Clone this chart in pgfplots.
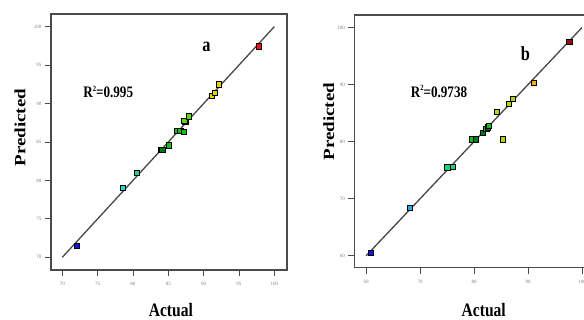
\documentclass[border=0pt]{standalone}
\usepackage{fontspec}
\setmainfont{Liberation Serif}
\usepackage{pgfplots}
\pgfplotsset{compat=1.18}
\definecolor{cblue}{RGB}{20,20,230}
\definecolor{ccyan}{RGB}{40,215,215}
\definecolor{cteal}{RGB}{20,205,160}
\definecolor{cdkgreen}{RGB}{0,120,20}
\definecolor{cgreen}{RGB}{20,190,20}
\definecolor{clgreen}{RGB}{90,215,10}
\definecolor{cyellowgreen}{RGB}{175,215,0}
\definecolor{cyellow}{RGB}{225,215,0}
\definecolor{corange}{RGB}{250,175,0}
\definecolor{cred}{RGB}{235,20,20}
\definecolor{cdarkred}{RGB}{160,10,10}
\definecolor{clightblue}{RGB}{20,175,230}
\definecolor{cgcyan}{RGB}{20,210,120}
\definecolor{framec}{RGB}{75,75,75}
\newcommand{\sq}{\raisebox{0.42em}{\fontsize{8}{8}\selectfont 2}}
\pgfplotsset{
  common/.style={
    scale only axis,
    anchor=south west,
    axis line style={framec, line width=1.6pt},
    tick pos=left,
    tick align=outside,
    major tick length=6pt,
    every tick/.style={framec, line width=0.8pt},
    minor tick num=0,
    ticklabel style={font=\fontsize{5}{6}\selectfont, text=gray},
    xticklabel style={yshift=-3pt},
    /pgf/number format/assume math mode=true,
    label style={font=\fontsize{19}{22}\selectfont\bfseries},
    scatter/classes={
      blue={mark=square*, draw=black, fill=cblue},
      cyan={mark=square*, draw=black, fill=ccyan},
      teal={mark=square*, draw=black, fill=cteal},
      dkgreen={mark=square*, draw=black, fill=cdkgreen},
      green={mark=square*, draw=black, fill=cgreen},
      lgreen={mark=square*, draw=black, fill=clgreen},
      ygreen={mark=square*, draw=black, fill=cyellowgreen},
      yellow={mark=square*, draw=black, fill=cyellow},
      orange={mark=square*, draw=black, fill=corange},
      red={mark=square*, draw=black, fill=cred},
      dred={mark=square*, draw=black, fill=cdarkred},
      lblue={mark=square*, draw=black, fill=clightblue},
      gcyan={mark=square*, draw=black, fill=cgcyan}
    },
  },
  fitline/.style={no marks, line width=1.3pt, color=black!72},
  pts/.style={scatter, only marks, scatter src=explicit symbolic, mark size=2.6pt, line width=0.7pt},
}
\begin{document}
\begin{tikzpicture}[x=1pt,y=1pt]
\path[use as bounding box] (0,0) rectangle (584,320);
\begin{axis}[common,
  at={(51pt,50pt)}, width=236pt, height=256pt,
  xmin=68.4, xmax=101.8, ymin=68.35, ymax=101.65,
  xtick={70,75,80,85,90,95,100}, ytick={70,75,80,85,90,95,100},
  xlabel={\scalebox{0.82}[1]{Actual}},
  ylabel={\scalebox{1}[0.82]{Predicted}},
  xlabel style={at={(axis description cs:0.508,-0.156)}, anchor=center},
  ylabel style={at={(axis description cs:-0.131,0.556)}, anchor=center},
]
\addplot[fitline] coordinates {(70,70) (100,100)};
\addplot[pts] table[meta=c] {
x y c
72.08 71.50 blue
78.54 79.00 cyan
80.60 80.96 teal
83.90 83.95 dkgreen
84.15 83.95 dkgreen
85.10 84.56 green
86.20 86.40 green
86.70 86.40 green
87.20 86.30 green
87.40 87.60 green
87.26 87.76 lgreen
87.92 88.33 lgreen
91.20 91.00 yellow
91.64 91.40 yellow
92.16 92.50 yellow
97.87 97.44 red
};
\node[font=\fontsize{20}{22}\selectfont\bfseries] at (axis cs:90.4,97.4) {\scalebox{0.82}[1]{a}};
\node[font=\fontsize{16}{18}\selectfont\bfseries] at (axis cs:76.5,91.5) {\scalebox{0.82}[1]{R\sq=0.995}};
\end{axis}
\begin{axis}[common,
  at={(354.3pt,52.3pt)}, width=238.5pt, height=252.7pt,
  xmin=57.8, xmax=102, ymin=57.9, ymax=102.2,
  xtick={60,70,80,90,100}, ytick={60,70,80,90,100},
  xlabel={\scalebox{0.82}[1]{Actual}},
  ylabel={\scalebox{1}[0.82]{Predicted}},
  xlabel style={at={(axis description cs:0.5426,-0.167)}, anchor=center},
  ylabel style={at={(axis description cs:-0.107,0.578)}, anchor=center},
]
\addplot[fitline] coordinates {(60,60) (100,100)};
\addplot[pts] table[meta=c] {
x y c
60.87 60.53 blue
68.09 68.40 lblue
75.06 75.50 gcyan
76.05 75.56 gcyan
79.63 80.40 green
80.30 80.40 dkgreen
81.60 81.60 dkgreen
82.28 82.20 green
82.60 82.50 dkgreen
82.80 82.70 green
84.26 85.26 ygreen
85.30 80.40 ygreen
86.50 86.67 ygreen
87.16 87.43 ygreen
91.10 90.35 orange
97.65 97.50 dred
};
\node[font=\fontsize{20}{22}\selectfont\bfseries] at (axis cs:89.5,95.5) {\scalebox{0.82}[1]{b}};
\node[font=\fontsize{16}{18}\selectfont\bfseries] at (axis cs:73.5,88.8) {\scalebox{0.82}[1]{R\sq=0.9738}};
\end{axis}
\end{tikzpicture}
\end{document}
